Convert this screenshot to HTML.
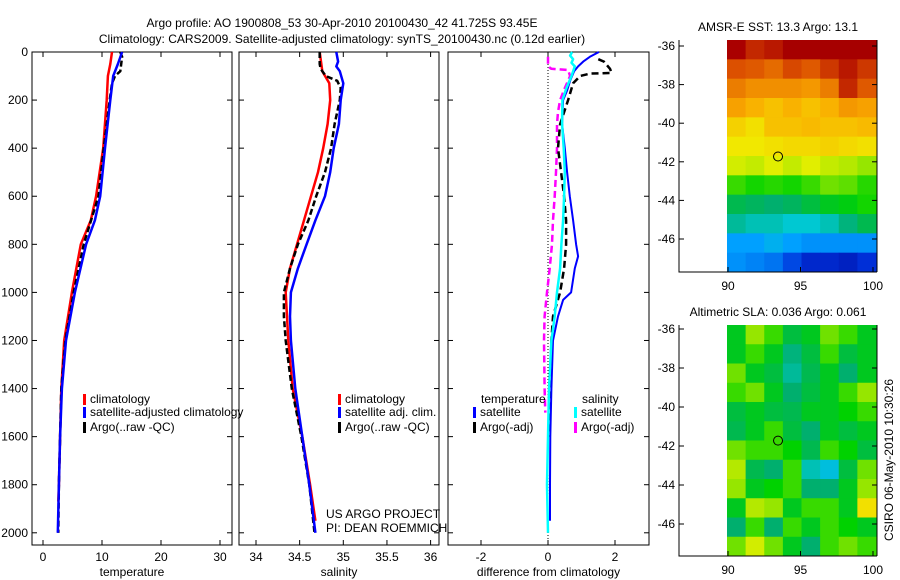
<!DOCTYPE html>
<html><head><meta charset="utf-8"><style>
html,body{margin:0;padding:0;background:#fff;}
svg{display:block;font-family:"Liberation Sans",sans-serif;}
text{font-size:12px;fill:#000;}
</style></head><body>
<svg id="fig" width="900" height="580">
<text x="342" y="27" text-anchor="middle" font-size="13">Argo profile: AO 1900808_53 30-Apr-2010 20100430_42 41.725S 93.45E</text>
<text x="342" y="43" text-anchor="middle" font-size="13">Climatology: CARS2009. Satellite-adjusted climatology: synTS_20100430.nc (0.12d earlier)</text>
<text x="778" y="31" text-anchor="middle">AMSR-E SST: 13.3 Argo: 13.1</text>
<text x="778" y="316" text-anchor="middle">Altimetric SLA: 0.036 Argo: 0.061</text>
<text transform="translate(893,460) rotate(-90)" text-anchor="middle">CSIRO 06-May-2010 10:30:26</text>
<text x="326" y="518">US ARGO PROJECT</text>
<text x="326" y="532">PI: DEAN ROEMMICH</text>
<g id="g"></g>
</svg>
<script>
// ---------- data ----------
const tDepth   = [0,50,100,200,400,600,700,800,1000,1200,1400,1600,1800,1870];
const tClim    = [11.7,11.4,11.0,10.8,10.2,9.0,8.1,6.4,4.9,3.6,3.1,2.9,2.7,2.6];
const sDepthB  = [0,50,100,200,400,600,700,800,1000,1200,1400,1600,1800,2000];
const tSat     = [13.4,12.7,11.9,11.4,10.5,9.7,8.8,7.3,5.4,3.9,3.2,2.9,2.7,2.5];
const aDepth   = [0,20,80,100,130,200,400,600,800,1000,1200,1400,1600,1800,2000];
const tArgo    = [13.1,13.4,13.1,12.2,11.7,11.3,10.3,9.4,6.9,5.2,3.8,3.1,2.9,2.7,2.6];
const sDepthC  = [0,80,130,200,300,400,500,600,700,800,900,1000,1200,1400,1600,1800,1950];
const sClim    = [34.73,34.76,34.84,34.85,34.82,34.77,34.71,34.63,34.55,34.47,34.39,34.34,34.37,34.42,34.53,34.62,34.68];
const sDepthS  = [0,40,60,80,130,200,300,400,500,600,700,800,900,1000,1100,1200,1400,1600,1800,2000];
const sSat     = [34.92,34.94,34.92,34.96,35.0,34.97,34.95,34.89,34.85,34.79,34.68,34.58,34.48,34.40,34.39,34.40,34.45,34.53,34.61,34.68];
const sDepthA  = [0,50,70,100,120,150,200,300,400,500,600,700,800,900,1000,1100,1200,1400,1600,1800,2000];
const sArgo    = [34.73,34.73,34.74,34.80,34.93,34.97,34.96,34.90,34.86,34.79,34.69,34.60,34.48,34.39,34.32,34.32,34.34,34.41,34.52,34.61,34.67];
const dDepthT  = [0,20,40,60,80,120,160,200,300,400,500,600,700,800,850,900,1000,1031,1100,1200,1400,1600,1800,1950];
const dTSat    = [1.52,1.25,1.05,0.9,0.78,0.66,0.57,0.45,0.42,0.5,0.57,0.65,0.75,0.84,0.9,0.8,0.69,0.45,0.3,0.15,0.1,0.07,0.06,0.06];
const dDepthTA = [30,40,70,87,90,100,130,200,300,400,500,600,700,800,900,1000,1100,1200,1400,1600];
const dTArgo   = [1.5,1.67,1.85,1.9,1.25,0.96,0.75,0.6,0.36,0.3,0.39,0.48,0.54,0.54,0.48,0.36,0.15,0.1,0.06,0.05];
const dDepthS  = [0,15,30,45,60,100,150,200,300,400,500,600,700,800,900,1000,1100,1200,1400,1600,1800,2000];
const dSSat    = [0.72,0.66,0.75,0.7,0.8,0.7,0.55,0.43,0.42,0.47,0.5,0.48,0.45,0.4,0.36,0.27,0.2,0.1,0.03,0.0,-0.03,0.0];
const dDepthSA = [20,60,70,75,100,150,200,250,300,400,500,600,700,800,900,1000,1100,1200,1400,1500];
const dSArgo   = [0,0,0.1,0.6,0.66,0.5,0.36,0.3,0.27,0.27,0.24,0.2,0.15,0.12,0.05,-0.03,-0.1,-0.12,-0.1,-0.08];
const depthTicks = [0,200,400,600,800,1000,1200,1400,1600,1800,2000];
const tempTicks = [0,10,20,30];
const salTicks = [34,34.5,35,35.5,36];
const salTickLabels = ["34","34.5","35","35.5","36"];
const diffTicks = [-2,0,2];
const latTicks = [-36,-38,-40,-42,-44,-46];
const lonTicks = [90,95,100];
const sstGrid = [
[.95,.9,.92,.96,.96,.96,.96,.96],
[.85,.84,.82,.86,.84,.88,.92,.88],
[.8,.78,.78,.78,.77,.8,.9,.84],
[.76,.74,.72,.74,.72,.74,.77,.76],
[.7,.68,.72,.72,.73,.72,.72,.73],
[.67,.67,.68,.69,.69,.7,.69,.68],
[.64,.63,.65,.63,.65,.63,.62,.6],
[.55,.53,.54,.53,.55,.58,.57,.54],
[.47,.46,.45,.46,.48,.5,.51,.53],
[.42,.4,.4,.38,.38,.4,.44,.47],
[.3,.3,.33,.3,.28,.28,.28,.28],
[.28,.26,.24,.18,.12,.12,.1,.14]];
const slaGrid = [
[.5,.6,.55,.48,.5,.58,.55,.5],
[.5,.55,.5,.44,.48,.55,.48,.5],
[.58,.5,.48,.42,.47,.5,.45,.5],
[.55,.58,.5,.45,.48,.5,.55,.6],
[.48,.5,.48,.47,.5,.5,.52,.55],
[.47,.5,.55,.48,.45,.5,.48,.5],
[.58,.55,.55,.52,.47,.55,.52,.48],
[.62,.47,.45,.55,.4,.36,.48,.58],
[.6,.5,.52,.55,.45,.45,.5,.6],
[.5,.62,.6,.5,.55,.55,.5,.68],
[.45,.55,.45,.55,.5,.55,.52,.5],
[.58,.64,.58,.5,.45,.55,.58,.55]];
const argoLon = 93.45, argoLat = -41.725;

// ---------- drawing ----------
const NS="http://www.w3.org/2000/svg";
const G=document.getElementById('g');
function el(tag,attrs,parent){const e=document.createElementNS(NS,tag);for(const k in attrs)e.setAttribute(k,attrs[k]);(parent||G).appendChild(e);return e;}
const yD = d => 52 + d*0.2404;
const xT = t => 43 + t*5.9;
const xS = s => 256 + (s-34)*87.3;
const xDf = v => 548 + v*33.5;

function panel(x0,x1,name,xs,ticks,labels,xlabel,showY){
  const r=el('rect',{x:x0,y:52,width:x1-x0,height:493,fill:'none',stroke:'#000','stroke-width':1});
  
  
  ticks.forEach((v,i)=>{
    const x=xs(v);
    el('line',{x1:x,x2:x,y1:545,y2:540,stroke:'#000'});
    el('line',{x1:x,x2:x,y1:52,y2:57,stroke:'#000'});
    const t=el('text',{x:x,y:561,'text-anchor':'middle'});t.textContent=labels[i];
    
    
  });
  depthTicks.forEach(d=>{
    const y=yD(d);
    el('line',{x1:x0,x2:x0+5,y1:y,y2:y,stroke:'#000'});
    el('line',{x1:x1,x2:x1-5,y1:y,y2:y,stroke:'#000'});
    if(showY){const t=el('text',{x:28,y:y+4,'text-anchor':'end'});t.textContent=d;
      
      }
  });
  const xl=el('text',{x:(x0+x1)/2,y:576,'text-anchor':'middle'});xl.textContent=xlabel;
  
  
}
function line(depths,vals,xs,color,name,dash,w){
  const p=depths.map((d,i)=>xs(vals[i]).toFixed(1)+','+yD(d).toFixed(1)).join(' ');
  const a={points:p,fill:'none',stroke:color,'stroke-width':w||2.5,'stroke-linejoin':'round'};
  if(dash)a['stroke-dasharray']=dash;
  const e=el('polyline',a);
  
  
}
function legend(x,y,color,label,name){
  el('rect',{x:x,y:y-9,width:3,height:11,fill:color});
  const t=el('text',{x:x+7,y:y});t.textContent=label;
  
  
}

panel(32,232,'temperature-panel',xT,tempTicks,tempTicks.map(String),'temperature',true);
panel(239,439,'salinity-panel',xS,salTicks,salTickLabels,'salinity',false);
panel(448,649,'difference-panel',xDf,diffTicks,diffTicks.map(String),'difference from climatology',false);
el('line',{x1:548,x2:548,y1:52,y2:545,stroke:'#000','stroke-width':1,'stroke-dasharray':'1,2'});

line(tDepth,tClim,xT,'#f00','temp-climatology-line');
line(aDepth,tArgo,xT,'#000','temp-argo-line','6,3');
line(sDepthB,tSat,xT,'#00f','temp-satellite-line');
line(sDepthC,sClim,xS,'#f00','sal-climatology-line');
line(sDepthA,sArgo,xS,'#000','sal-argo-line','6,3');
line(sDepthS,sSat,xS,'#00f','sal-satellite-line');
line(dDepthSA,dSArgo,xDf,'#f0f','diff-sal-argo-line','7,4');
line(dDepthTA,dTArgo,xDf,'#000','diff-temp-argo-line','7,4');
line(dDepthT,dTSat,xDf,'#00f','diff-temp-satellite-line',null,2);
line(dDepthS,dSSat,xDf,'#0ff','diff-sal-satellite-line',null,2.5);

legend(83,403,'#f00','climatology','temp-legend-climatology');
legend(83,416,'#00f','satellite-adjusted climatology','temp-legend-satellite');
legend(83,431,'#000','Argo(..raw -QC)','temp-legend-argo');
legend(338,403,'#f00','climatology','sal-legend-climatology');
legend(338,416,'#00f','satellite adj. clim.','sal-legend-satellite');
legend(338,431,'#000','Argo(..raw -QC)','sal-legend-argo');
{const t=el('text',{x:481,y:403});t.textContent='temperature';
 
 }
{const t=el('text',{x:582,y:403});t.textContent='salinity';
 
 }
legend(473,416,'#00f','satellite','diff-legend-temp-satellite');
legend(473,431,'#000','Argo(-adj)','diff-legend-temp-argo');
legend(574,416,'#0ff','satellite','diff-legend-sal-satellite');
legend(574,431,'#f0f','Argo(-adj)','diff-legend-sal-argo');

// colormap (custom, similar to reference palette)
const cmapStops=[[0,[0,0,140]],[0.15,[0,50,220]],[0.3,[0,160,255]],[0.38,[0,200,210]],[0.45,[0,175,110]],[0.52,[0,210,0]],[0.6,[150,230,0]],[0.66,[240,240,0]],[0.75,[250,170,0]],[0.85,[220,80,0]],[0.95,[170,0,0]],[1,[150,0,0]]];
function cmap(v){
  v=Math.max(0,Math.min(1,v));
  for(let i=1;i<cmapStops.length;i++){
    const [a,ca]=cmapStops[i-1],[b,cb]=cmapStops[i];
    if(v<=b){const f=(v-a)/(b-a);const c=ca.map((x,k)=>Math.round(x+(cb[k]-x)*f));return `rgb(${c[0]},${c[1]},${c[2]})`;}
  }
  return 'rgb(150,0,0)';
}
function map(top,bot,lat36,pxPerLat,grid,name){
  const lonX = lon => 728 + (lon-90)*14.5;
  const latY = lat => lat36 + (-36-lat)*pxPerLat;
  const rows=grid.length, cols=grid[0].length;
  const ix0=727, ix1=876, ch=(bot-top)/rows, cw=(ix1-ix0)/cols;
  grid.forEach((row,i)=>row.forEach((v,j)=>{
    const r=el('rect',{x:ix0+j*cw,y:top+i*ch,width:cw+0.5,height:ch+0.5,fill:cmap(v)});
    
    
  }));
  el('polyline',{points:`679,${top} 679,${bot} 877,${bot}`,fill:'none',stroke:'#000'});
  el('line',{x1:877,x2:877,y1:top,y2:bot,stroke:'#000'});
  latTicks.forEach(l=>{
    const y=latY(l);
    el('line',{x1:679,x2:684,y1:y,y2:y,stroke:'#000'});
    el('line',{x1:877,x2:872,y1:y,y2:y,stroke:'#000'});
    const t=el('text',{x:675,y:y+4,'text-anchor':'end'});t.textContent=l;
    
    
  });
  lonTicks.forEach(l=>{
    const x=lonX(l);
    el('line',{x1:x,x2:x,y1:bot,y2:bot-5,stroke:'#000'});
    const t=el('text',{x:x,y:bot+18,'text-anchor':'middle'});t.textContent=l;
    
    
  });
  const c=el('circle',{cx:lonX(argoLon),cy:latY(argoLat),r:4.5,fill:'none',stroke:'#000'});
  
  
}
map(40,272,46,19.3,sstGrid,'sst-map');
map(325,556,329,19.5,slaGrid,'sla-map');
</script>
</body></html>
